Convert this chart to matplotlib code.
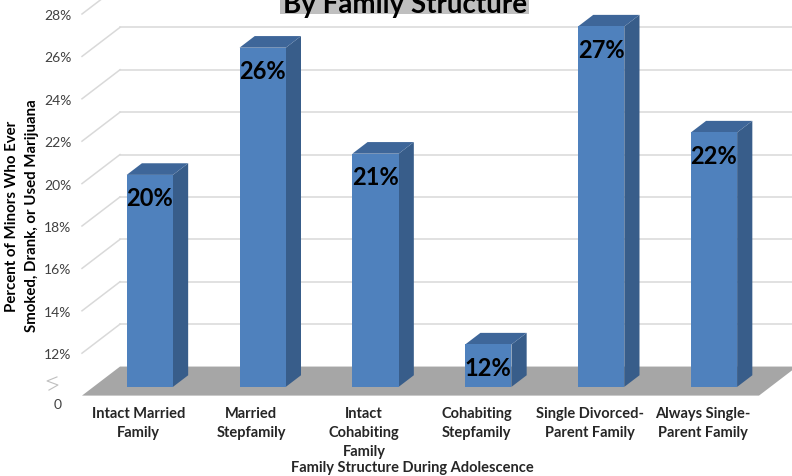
import matplotlib
matplotlib.use("Agg")
import matplotlib.pyplot as plt
from matplotlib.patches import Polygon, Rectangle

# ---------------- data ----------------
categories = ["Intact Married\nFamily", "Married\nStepfamily", "Intact\nCohabiting\nFamily",
              "Cohabiting\nStepfamily", "Single Divorced-\nParent Family", "Always Single-\nParent Family"]
values = [20, 26, 21, 12, 27, 22]
value_labels = ["20%", "26%", "21%", "12%", "27%", "22%"]
tick_values = [12, 14, 16, 18, 20, 22, 24, 26, 28]
tick_labels = ["12%", "14%", "16%", "18%", "20%", "22%", "24%", "26%", "28%"]
zero_tick = 9.65
title = "By Family Structure"
xlabel = "Family Structure During Adolescence"
ylabel = "Percent of Minors Who Ever\nSmoked, Drank, or Used Marijuana"

# ---------------- style / geometry ----------------
FONT = ["Lato", "DejaVu Sans"]
plt.rcParams["font.family"] = FONT
FLOOR = 10.0
DX, DY = 0.337, 1.37       # depth vector of the 3D box, data units
F_FRONT, F_DEPTH = 0.30, 0.40
W = 0.41
C_FRONT, C_SIDE, C_TOP = "#4F81BD", "#385D8A", "#3E6699"
GRID = "#D9D9D9"

W_PX, H_PX = 792, 477
fig = plt.figure(figsize=(W_PX / 100, H_PX / 100), dpi=100)
ax = fig.add_axes([82 / W_PX, 69.8 / H_PX, 677 / W_PX, 392.2 / H_PX])
ax.set_xlim(-0.5, 5.5)
ax.set_ylim(9.5, 28)
for s in ax.spines.values():
    s.set_visible(False)

x0, x1 = -0.5, 5.5
# gridlines: back wall + left wall diagonals
for v in tick_values:
    ax.plot([x0 + DX, x1 + DX + 0.3], [v + DY, v + DY], color=GRID, lw=1.1, clip_on=False, zorder=1)
    ax.plot([x0, x0 + DX], [v, v + DY], color=GRID, lw=1.1, clip_on=False, zorder=1)

# floor
floor = Polygon([(x0, FLOOR), (x1, FLOOR), (x1 + DX, FLOOR + DY), (x0 + DX, FLOOR + DY)],
                closed=True, facecolor="#A6A6A6", edgecolor="none", clip_on=False, zorder=2)
ax.add_patch(floor)

# bars
for i, v in enumerate(values):
    xl = i + F_FRONT * DX - W / 2
    xr = xl + W
    yb = FLOOR + F_FRONT * DY
    yt = v + F_FRONT * DY
    bx, by = F_DEPTH * DX, F_DEPTH * DY
    ax.bar(i + F_FRONT * DX, v - FLOOR, bottom=yb, width=W, color=C_FRONT,
           edgecolor="none", zorder=4, clip_on=False)
    ax.add_patch(Polygon([(xr, yb), (xr + bx, yb + by), (xr + bx, yt + by), (xr, yt)],
                         closed=True, facecolor=C_SIDE, edgecolor="none", zorder=3, clip_on=False))
    ax.add_patch(Polygon([(xl, yt), (xr, yt), (xr + bx, yt + by), (xl + bx, yt + by)],
                         closed=True, facecolor=C_TOP, edgecolor="none", zorder=3, clip_on=False))
    ax.annotate(value_labels[i], (i + F_FRONT * DX, yt), xytext=(0, -8), textcoords="offset points",
                ha="center", va="top", fontsize=17, fontweight="bold", color="black", zorder=6)

# y ticks
ax.set_yticks([zero_tick] + tick_values)
ax.set_yticklabels(["0"] + tick_labels)
ax.tick_params(axis="y", length=0, pad=17.6, labelsize=10, labelcolor="#404040")
for lab in ax.get_yticklabels():
    lab.set_horizontalalignment("center")

# x ticks
ax.set_xticks(range(len(categories)))
ax.set_xticklabels(categories, fontweight="bold", linespacing=1.45)
ax.tick_params(axis="x", length=0, pad=0, labelsize=10.5, labelcolor="#262626")

# axis break mark (zigzag)
ax.plot([-0.722, -0.810, -0.713, -0.793], [10.88, 10.69, 10.50, 10.26], color="#BFBFBF", lw=0.8,
        clip_on=False)

# labels
fig.text(412 / W_PX, 1 - 468 / H_PX, xlabel, ha="center", va="center",
         fontsize=10.5, fontweight="bold", color="#262626")
fig.text(22 / W_PX, 1 - 216 / H_PX, ylabel, ha="center", va="center", rotation=90,
         fontsize=10.8, fontweight="bold", color="black", linespacing=1.6)
fig.add_artist(Rectangle((280 / W_PX, 1 - 20 / H_PX), 249 / W_PX, 20 / H_PX,
                         transform=fig.transFigure, facecolor="#BFBFBF", edgecolor="none", zorder=0))
fig.text(405 / W_PX, 1 - 13 / H_PX, title, ha="center", va="baseline",
         fontsize=20, fontweight="bold", color="black", zorder=1)

fig.savefig("out.png", dpi=100)
